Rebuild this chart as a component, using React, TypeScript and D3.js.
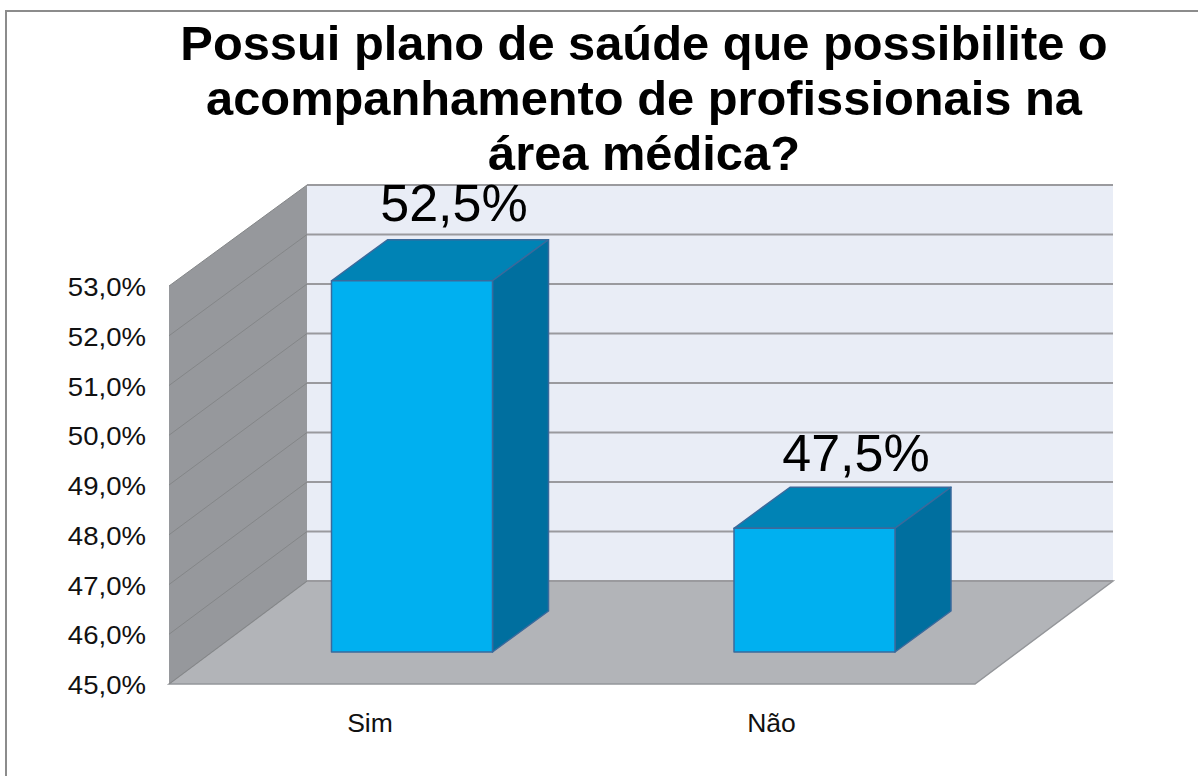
import React from "react";
import * as d3 from "d3";

const titleLines = ["Possui plano de saúde que possibilite o", "acompanhamento de profissionais na", "área médica?"];
const categories = ["Sim", "Não"];
const values = [52.5, 47.5];
const valueLabels = ["52,5%", "47,5%"];
const ticks = [45, 46, 47, 48, 49, 50, 51, 52, 53];

const font = "'Liberation Sans', Arial, sans-serif";
const depthX = 138;
const frontY = d3.scaleLinear().domain([45, 53]).range([684, 286]);
const backY = d3.scaleLinear().domain([45, 53]).range([581, 185]);
const barY = d3.scaleLinear().domain([45, 53]).range([652, 256]);
const left = 169;
const floorRight = 975;
const barLeft = [331.5, 734];
const barWidth = 161;
const barDX = 56;
const barDY = 41;
const labelCenter = [454, 856];
const labelBase = [221, 471];
const catCenter = [370, 771.5];
const pts = (p: number[][]) => p.map((d) => d.join(",")).join(" ");

export default function App() {
  return (
    <svg width={1198} height={776} style={{ position: "absolute", left: 0, top: 0, background: "#fff" }}>
      <rect x={6} y={11} width={1300} height={900} fill="#fff" stroke="#8c8c8c" strokeWidth={2} />
      {titleLines.map((t, i) => (
        <text key={t} x={644} y={60 + i * 55} textAnchor="middle" fontFamily={font} fontWeight="bold" fontSize={48.8} fill="#000">{t}</text>
      ))}
      <rect x={left + depthX} y={backY(53)} width={floorRight - left} height={backY(45) - backY(53)} fill="#e9edf6" />
      <polygon points={pts([[left, frontY(53)], [left + depthX, backY(53)], [left + depthX, backY(45)], [left, frontY(45)]])} fill="#96989c" />
      <polygon points={pts([[left, frontY(45)], [left + depthX, backY(45)], [floorRight + depthX, backY(45)], [floorRight, frontY(45)]])} fill="#b2b4b8" stroke="#94969a" strokeWidth={1.5} />
      {ticks.map((t) => (
        <g key={t}>
          <line x1={left + depthX} x2={floorRight + depthX} y1={backY(t)} y2={backY(t)} stroke="#9a9a9e" strokeWidth={2} />
          <line x1={left} x2={left + depthX} y1={frontY(t)} y2={backY(t)} stroke="#848688" strokeWidth={1} />
          <text transform={`translate(146,${frontY(t) + 10}) scale(1.06,1)`} textAnchor="end" fontFamily={font} fontSize={26} fill="#111">{d3.format(".1f")(t).replace(".", ",")}%</text>
        </g>
      ))}
      {categories.map((c, i) => {
        const x0 = barLeft[i];
        const x1 = x0 + barWidth;
        const yT = barY(values[i]);
        const yB = barY(45);
        return (
          <g key={c} stroke="#3a6a9c" strokeWidth={1.5} strokeLinejoin="round">
            <polygon points={pts([[x0, yT], [x0 + barDX, yT - barDY], [x1 + barDX, yT - barDY], [x1, yT]])} fill="#0083b5" />
            <polygon points={pts([[x1, yT], [x1 + barDX, yT - barDY], [x1 + barDX, yB - barDY], [x1, yB]])} fill="#006f9f" />
            <rect x={x0} y={yT} width={barWidth} height={yB - yT} fill="#00b0f0" />
          </g>
        );
      })}
      {categories.map((c, i) => (
        <text key={c} x={labelCenter[i]} y={labelBase[i]} textAnchor="middle" fontFamily={font} fontSize={52} fill="#000">{valueLabels[i]}</text>
      ))}
      {categories.map((c, i) => (
        <text key={c} x={catCenter[i]} y={732} textAnchor="middle" fontFamily={font} fontSize={26.5} fill="#111">{c}</text>
      ))}
    </svg>
  );
}
